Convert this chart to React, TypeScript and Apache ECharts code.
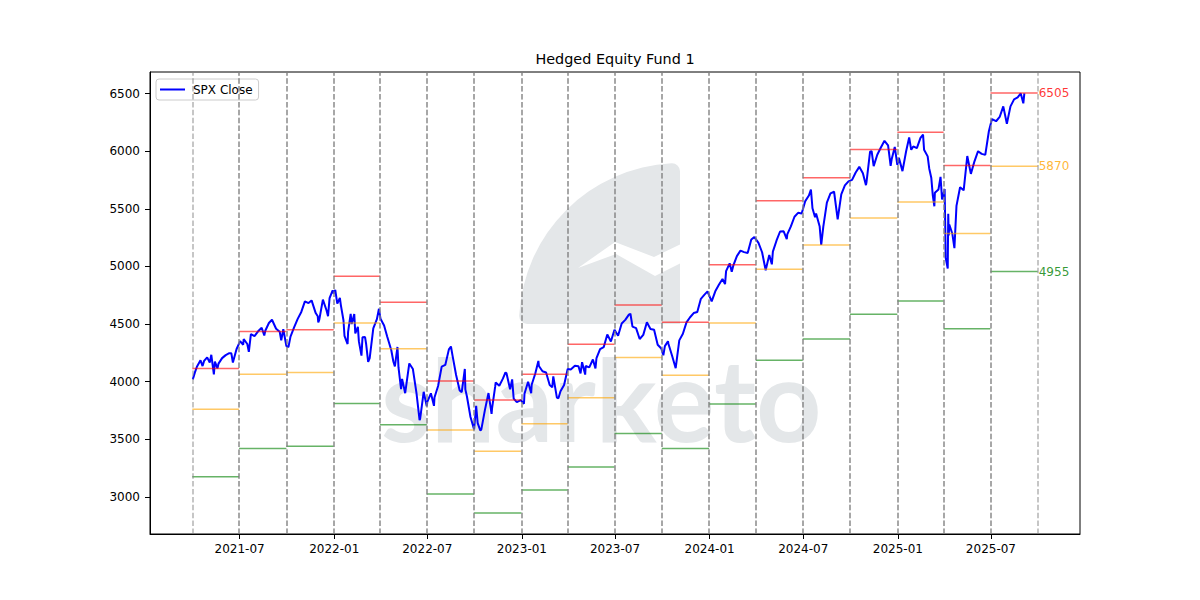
import React, { useEffect, useRef } from "react";
import * as echarts from "echarts";

// S&P 500 closes (date, close)
const spxClose: [string, number][] = [
  ["2021-04-01", 4020], ["2021-04-05", 4078], ["2021-04-09", 4129], ["2021-04-16", 4185], ["2021-04-20", 4135],
  ["2021-04-23", 4180], ["2021-04-29", 4211], ["2021-05-04", 4165], ["2021-05-07", 4233], ["2021-05-12", 4063],
  ["2021-05-14", 4174], ["2021-05-19", 4116], ["2021-05-21", 4156], ["2021-05-28", 4204], ["2021-06-04", 4230],
  ["2021-06-11", 4247], ["2021-06-15", 4246], ["2021-06-18", 4166], ["2021-06-25", 4281], ["2021-07-02", 4352],
  ["2021-07-08", 4320], ["2021-07-09", 4370], ["2021-07-16", 4327], ["2021-07-19", 4258], ["2021-07-23", 4412],
  ["2021-07-30", 4395], ["2021-08-06", 4437], ["2021-08-13", 4468], ["2021-08-18", 4400], ["2021-08-20", 4442],
  ["2021-08-27", 4509], ["2021-09-02", 4537], ["2021-09-10", 4459], ["2021-09-17", 4433], ["2021-09-20", 4358],
  ["2021-09-24", 4455], ["2021-09-30", 4308], ["2021-10-04", 4300], ["2021-10-08", 4391], ["2021-10-15", 4471],
  ["2021-10-22", 4545], ["2021-10-29", 4605], ["2021-11-05", 4697], ["2021-11-12", 4682], ["2021-11-18", 4705],
  ["2021-11-26", 4595], ["2021-11-30", 4567], ["2021-12-01", 4513], ["2021-12-03", 4538], ["2021-12-10", 4712],
  ["2021-12-17", 4620], ["2021-12-20", 4568], ["2021-12-23", 4725], ["2021-12-29", 4793], ["2021-12-31", 4766],
  ["2022-01-03", 4797], ["2022-01-07", 4677], ["2022-01-12", 4726], ["2022-01-14", 4662], ["2022-01-19", 4533],
  ["2022-01-21", 4398], ["2022-01-27", 4326], ["2022-01-28", 4432], ["2022-02-02", 4589], ["2022-02-04", 4500],
  ["2022-02-09", 4587], ["2022-02-11", 4419], ["2022-02-16", 4475], ["2022-02-18", 4349], ["2022-02-23", 4226],
  ["2022-02-25", 4385], ["2022-03-02", 4387], ["2022-03-04", 4329], ["2022-03-08", 4171], ["2022-03-11", 4204],
  ["2022-03-18", 4463], ["2022-03-25", 4543], ["2022-03-29", 4632], ["2022-04-01", 4546], ["2022-04-08", 4488],
  ["2022-04-14", 4392], ["2022-04-22", 4272], ["2022-04-26", 4175], ["2022-04-29", 4132], ["2022-05-04", 4301],
  ["2022-05-06", 4123], ["2022-05-11", 3935], ["2022-05-13", 4024], ["2022-05-19", 3900], ["2022-05-20", 3901],
  ["2022-05-27", 4158], ["2022-06-03", 4109], ["2022-06-10", 3901], ["2022-06-16", 3667], ["2022-06-17", 3675],
  ["2022-06-24", 3912], ["2022-06-30", 3785], ["2022-07-01", 3825], ["2022-07-08", 3899], ["2022-07-14", 3790],
  ["2022-07-15", 3863], ["2022-07-22", 3962], ["2022-07-29", 4130], ["2022-08-05", 4145], ["2022-08-12", 4280],
  ["2022-08-16", 4305], ["2022-08-19", 4228], ["2022-08-26", 4058], ["2022-09-02", 3924], ["2022-09-06", 3909],
  ["2022-09-12", 4110], ["2022-09-13", 3933], ["2022-09-16", 3873], ["2022-09-23", 3693], ["2022-09-30", 3586],
  ["2022-10-04", 3791], ["2022-10-07", 3640], ["2022-10-12", 3577], ["2022-10-14", 3583], ["2022-10-21", 3753],
  ["2022-10-28", 3901], ["2022-11-03", 3720], ["2022-11-04", 3771], ["2022-11-10", 3956], ["2022-11-11", 3993],
  ["2022-11-18", 3965], ["2022-11-25", 4026], ["2022-11-30", 4080], ["2022-12-02", 4072], ["2022-12-09", 3934],
  ["2022-12-13", 4019], ["2022-12-16", 3852], ["2022-12-22", 3822], ["2022-12-30", 3840], ["2023-01-05", 3808],
  ["2023-01-06", 3895], ["2023-01-13", 3999], ["2023-01-19", 3899], ["2023-01-20", 3973], ["2023-01-27", 4071],
  ["2023-02-02", 4180], ["2023-02-03", 4136], ["2023-02-10", 4090], ["2023-02-17", 4079], ["2023-02-24", 3970],
  ["2023-03-01", 3951], ["2023-03-03", 4046], ["2023-03-10", 3862], ["2023-03-13", 3856], ["2023-03-17", 3917],
  ["2023-03-24", 3971], ["2023-03-31", 4109], ["2023-04-06", 4105], ["2023-04-14", 4138], ["2023-04-21", 4133],
  ["2023-04-25", 4071], ["2023-04-28", 4169], ["2023-05-04", 4061], ["2023-05-05", 4136], ["2023-05-12", 4124],
  ["2023-05-19", 4192], ["2023-05-24", 4115], ["2023-05-26", 4205], ["2023-06-02", 4282], ["2023-06-09", 4299],
  ["2023-06-16", 4410], ["2023-06-23", 4348], ["2023-06-30", 4450], ["2023-07-07", 4399], ["2023-07-14", 4505],
  ["2023-07-21", 4536], ["2023-07-28", 4582], ["2023-07-31", 4589], ["2023-08-04", 4478], ["2023-08-11", 4464],
  ["2023-08-18", 4370], ["2023-08-25", 4406], ["2023-09-01", 4516], ["2023-09-08", 4457], ["2023-09-15", 4450],
  ["2023-09-22", 4320], ["2023-09-29", 4288], ["2023-10-03", 4229], ["2023-10-06", 4308], ["2023-10-12", 4350],
  ["2023-10-13", 4327], ["2023-10-20", 4224], ["2023-10-27", 4117], ["2023-11-03", 4358], ["2023-11-10", 4415],
  ["2023-11-17", 4514], ["2023-11-24", 4559], ["2023-12-01", 4595], ["2023-12-08", 4604], ["2023-12-15", 4719],
  ["2023-12-22", 4755], ["2023-12-28", 4783], ["2023-12-29", 4770], ["2024-01-05", 4697], ["2024-01-12", 4784],
  ["2024-01-19", 4840], ["2024-01-26", 4891], ["2024-01-31", 4846], ["2024-02-02", 4959], ["2024-02-09", 5027],
  ["2024-02-13", 4953], ["2024-02-16", 5006], ["2024-02-23", 5089], ["2024-03-01", 5137], ["2024-03-08", 5124],
  ["2024-03-15", 5117], ["2024-03-22", 5234], ["2024-03-28", 5254], ["2024-04-05", 5204], ["2024-04-12", 5123],
  ["2024-04-19", 4967], ["2024-04-26", 5100], ["2024-05-01", 5018], ["2024-05-03", 5128], ["2024-05-10", 5223],
  ["2024-05-17", 5303], ["2024-05-24", 5305], ["2024-05-30", 5236], ["2024-05-31", 5278], ["2024-06-07", 5347],
  ["2024-06-14", 5431], ["2024-06-21", 5465], ["2024-06-28", 5460], ["2024-07-05", 5567], ["2024-07-12", 5615],
  ["2024-07-16", 5667], ["2024-07-19", 5505], ["2024-07-24", 5427], ["2024-07-26", 5459], ["2024-08-02", 5346],
  ["2024-08-05", 5186], ["2024-08-09", 5344], ["2024-08-16", 5554], ["2024-08-23", 5634], ["2024-08-30", 5648],
  ["2024-09-06", 5408], ["2024-09-13", 5626], ["2024-09-20", 5703], ["2024-09-27", 5738], ["2024-10-04", 5751],
  ["2024-10-11", 5815], ["2024-10-18", 5864], ["2024-10-25", 5808], ["2024-10-31", 5705], ["2024-11-01", 5729],
  ["2024-11-08", 5996], ["2024-11-11", 6001], ["2024-11-15", 5870], ["2024-11-22", 5969], ["2024-11-29", 6032],
  ["2024-12-06", 6090], ["2024-12-13", 6051], ["2024-12-18", 5872], ["2024-12-20", 5930], ["2024-12-26", 6037],
  ["2024-12-31", 5882], ["2025-01-03", 5942], ["2025-01-10", 5827], ["2025-01-17", 5997], ["2025-01-23", 6119],
  ["2025-01-27", 6012], ["2025-01-31", 6041], ["2025-02-07", 6026], ["2025-02-14", 6115], ["2025-02-19", 6144],
  ["2025-02-21", 6013], ["2025-02-28", 5955], ["2025-03-03", 5850], ["2025-03-07", 5770], ["2025-03-10", 5615],
  ["2025-03-13", 5522], ["2025-03-14", 5639], ["2025-03-21", 5668], ["2025-03-25", 5777], ["2025-03-28", 5581],
  ["2025-04-02", 5671], ["2025-04-03", 5397], ["2025-04-04", 5074], ["2025-04-08", 4982], ["2025-04-09", 5457],
  ["2025-04-10", 5268], ["2025-04-11", 5363], ["2025-04-17", 5283], ["2025-04-21", 5158], ["2025-04-25", 5525],
  ["2025-05-02", 5687], ["2025-05-09", 5660], ["2025-05-16", 5958], ["2025-05-23", 5803], ["2025-05-30", 5912],
  ["2025-06-06", 6000], ["2025-06-13", 5977], ["2025-06-20", 5968], ["2025-06-27", 6173], ["2025-07-03", 6279],
  ["2025-07-11", 6260], ["2025-07-18", 6297], ["2025-07-25", 6389], ["2025-08-01", 6238], ["2025-08-08", 6389],
  ["2025-08-15", 6450], ["2025-08-22", 6467], ["2025-08-28", 6501], ["2025-09-02", 6415], ["2025-09-04", 6502],
];

// Quarter boundaries of the hedge resets
const quarterBounds = [
  "2021-03-31", "2021-06-30", "2021-09-30", "2021-12-31", "2022-03-31", "2022-06-30", "2022-09-30",
  "2022-12-31", "2023-03-31", "2023-06-30", "2023-09-30", "2023-12-31", "2024-03-31", "2024-06-30",
  "2024-09-30", "2024-12-31", "2025-03-31", "2025-06-30", "2025-09-30",
];

// Per-quarter levels: call cap, long put, short put
const capLevels = [4115, 4435, 4450, 4915, 4690, 4005, 3840, 4065, 4325, 4665, 4515, 5015, 5570, 5770, 6015, 6165, 5875, 6505];
const longPutLevels = [3760, 4065, 4080, 4510, 4285, 3580, 3395, 3635, 3860, 4210, 4055, 4510, 4975, 5185, 5420, 5560, 5285, 5870];
const shortPutLevels = [3175, 3420, 3440, 3810, 3625, 3025, 2860, 3060, 3260, 3550, 3420, 3805, 4185, 4370, 4585, 4700, 4460, 4955];

const xTickLabels = ["2021-07", "2022-01", "2022-07", "2023-01", "2023-07", "2024-01", "2024-07", "2025-01", "2025-07"];
const yTickValues = [3000, 3500, 4000, 4500, 5000, 5500, 6000, 6500];

const FONT = "DejaVu Sans";
const LABEL_SIZE = 12;
const ts = (s: string) => {
  const [y, m, d] = s.split("-").map(Number);
  return Date.UTC(y, m - 1, d || 1);
};
const pad2 = (n: number) => (n < 10 ? "0" + n : String(n));

function stepData(levels: number[]) {
  const out: any[] = [];
  levels.forEach((v, i) => {
    out.push([ts(quarterBounds[i]), v], [ts(quarterBounds[i + 1]), v], [ts(quarterBounds[i + 1]), "-"]);
  });
  return out;
}

function buildOption() {
  const allY = [...spxClose.map((p) => p[1]), ...capLevels, ...longPutLevels, ...shortPutLevels];
  const yLo = Math.min(...allY);
  const yHi = Math.max(...allY);
  const yPad = (yHi - yLo) * 0.05;
  const xLo = Math.min(ts(quarterBounds[0]), ts(spxClose[0][0]));
  const xHi = ts(quarterBounds[quarterBounds.length - 1]);
  const xPad = (xHi - xLo) * 0.05;

  // each quarter draws its own start and end line, so shared boundaries come out darker
  const boundaryLines: any[] = [];
  for (let i = 0; i < quarterBounds.length - 1; i++) {
    boundaryLines.push({ xAxis: ts(quarterBounds[i]) }, { xAxis: ts(quarterBounds[i + 1]) });
  }

  const last = capLevels.length - 1;
  const lastX = ts(quarterBounds[quarterBounds.length - 1]);
  const stepColors = ["rgba(255,0,0,0.6)", "rgba(255,165,0,0.6)", "rgba(0,128,0,0.6)"];
  const labelColors = ["#ff0000", "#ffa500", "#008000"];
  const lastLevels = [capLevels[last], longPutLevels[last], shortPutLevels[last]];

  const xTicks = xTickLabels.map((s) => ts(s));
  const wm = "#e4e7e9";

  return {
    animation: false,
    backgroundColor: "#ffffff",
    textStyle: { fontFamily: FONT },
    title: {
      text: "Hedged Equity Fund 1",
      left: 615,
      top: 52,
      textAlign: "center",
      padding: 0,
      textStyle: { fontFamily: FONT, fontSize: 14.4, fontWeight: "normal", color: "#000" },
    },
    legend: {
      data: ["SPX Close"],
      left: 156,
      top: 79,
      icon: "rect",
      itemWidth: 25,
      itemHeight: 2,
      padding: [4, 6, 4, 4],
      borderColor: "#cccccc",
      borderWidth: 1,
      borderRadius: 3,
      backgroundColor: "rgba(255,255,255,0.8)",
      textStyle: { fontFamily: FONT, fontSize: LABEL_SIZE, color: "#000", padding: [0, 0, 0, 3], lineHeight: 13 },
    },
    grid: {
      left: 150,
      top: 72,
      width: 930,
      height: 462,
      show: true,
      borderColor: "#000",
      borderWidth: 1,
      backgroundColor: "transparent",
    },
    xAxis: {
      type: "value",
      min: xLo - xPad,
      max: xHi + xPad,
      axisLine: { lineStyle: { color: "#000", width: 1 } },
      axisTick: { show: true, length: 5, inside: false, lineStyle: { color: "#000" }, customValues: xTicks },
      axisLabel: {
        customValues: xTicks,
        color: "#000",
        fontFamily: FONT,
        fontSize: LABEL_SIZE,
        margin: 9,
        formatter: (v: number) => {
          const d = new Date(v);
          return d.getUTCFullYear() + "-" + pad2(d.getUTCMonth() + 1);
        },
      },
      splitLine: { show: false },
    },
    yAxis: {
      type: "value",
      min: yLo - yPad,
      max: yHi + yPad,
      axisLine: { show: true, lineStyle: { color: "#000", width: 1 } },
      axisTick: { show: true, length: 5, inside: false, lineStyle: { color: "#000" }, customValues: yTickValues },
      axisLabel: {
        customValues: yTickValues,
        color: "#000",
        fontFamily: FONT,
        fontSize: LABEL_SIZE,
        margin: 10,
        formatter: (v: number) => String(Math.round(v)),
      },
      splitLine: { show: false },
    },
    graphic: [
      {
        type: "sector",
        z: -10,
        silent: true,
        shape: { cx: 680, cy: 324, r: 161, r0: 0, startAngle: Math.PI, endAngle: Math.PI * 1.5, clockwise: true, cornerRadius: 8 },
        style: { fill: wm },
      },
      {
        type: "polygon",
        z: -9,
        silent: true,
        shape: { points: [[578, 268], [615, 242], [654, 257], [681, 244], [681, 263], [655, 276], [616, 254]] },
        style: { fill: "#ffffff" },
      },
      {
        type: "text",
        z: -10,
        silent: true,
        x: 381,
        y: 397,
        style: { text: "sharketo", font: "bold 114px Lato", fill: wm, verticalAlign: "middle", align: "left" },
      },
    ],
    series: [
      {
        name: "quarters",
        type: "line",
        data: [],
        z: 1,
        silent: true,
        markLine: {
          silent: true,
          symbol: ["none", "none"],
          label: { show: false },
          emphasis: { disabled: true },
          lineStyle: { color: "rgba(128,128,128,0.6)", width: 1.5, type: [5.5, 2.4] },
          data: boundaryLines,
        },
      },
      {
        name: "SPX Close",
        type: "line",
        data: spxClose.map(([d, v]) => [ts(d), v]),
        showSymbol: false,
        symbol: "none",
        z: 3,
        lineStyle: { color: "#0000ff", width: 2 },
        itemStyle: { color: "#0000ff" },
      },
      ...[capLevels, longPutLevels, shortPutLevels].map((lv, k) => ({
        name: ["cap", "longPut", "shortPut"][k],
        type: "line",
        data: stepData(lv),
        showSymbol: false,
        symbol: "none",
        connectNulls: false,
        z: 4,
        silent: true,
        lineStyle: { color: stepColors[k], width: 1.5 },
      })),
      {
        name: "levelLabels",
        type: "scatter",
        symbolSize: 0,
        silent: true,
        z: 5,
        data: lastLevels.map((v, k) => ({
          value: [lastX, v],
          label: {
            show: true,
            position: "right",
            distance: 1,
            formatter: String(v),
            color: labelColors[k],
            fontFamily: FONT,
            fontSize: LABEL_SIZE,
          },
        })),
      },
    ],
  };
}

export default function App() {
  const ref = useRef<HTMLDivElement>(null);
  useEffect(() => {
    if (!ref.current) return;
    const chart = echarts.init(ref.current, undefined, { renderer: "svg" });
    chart.setOption(buildOption() as any);
    return () => chart.dispose();
  }, []);
  return (
    <div
      ref={ref}
      style={{ position: "absolute", left: 0, top: 0, width: 1200, height: 600, background: "#fff" }}
    />
  );
}
